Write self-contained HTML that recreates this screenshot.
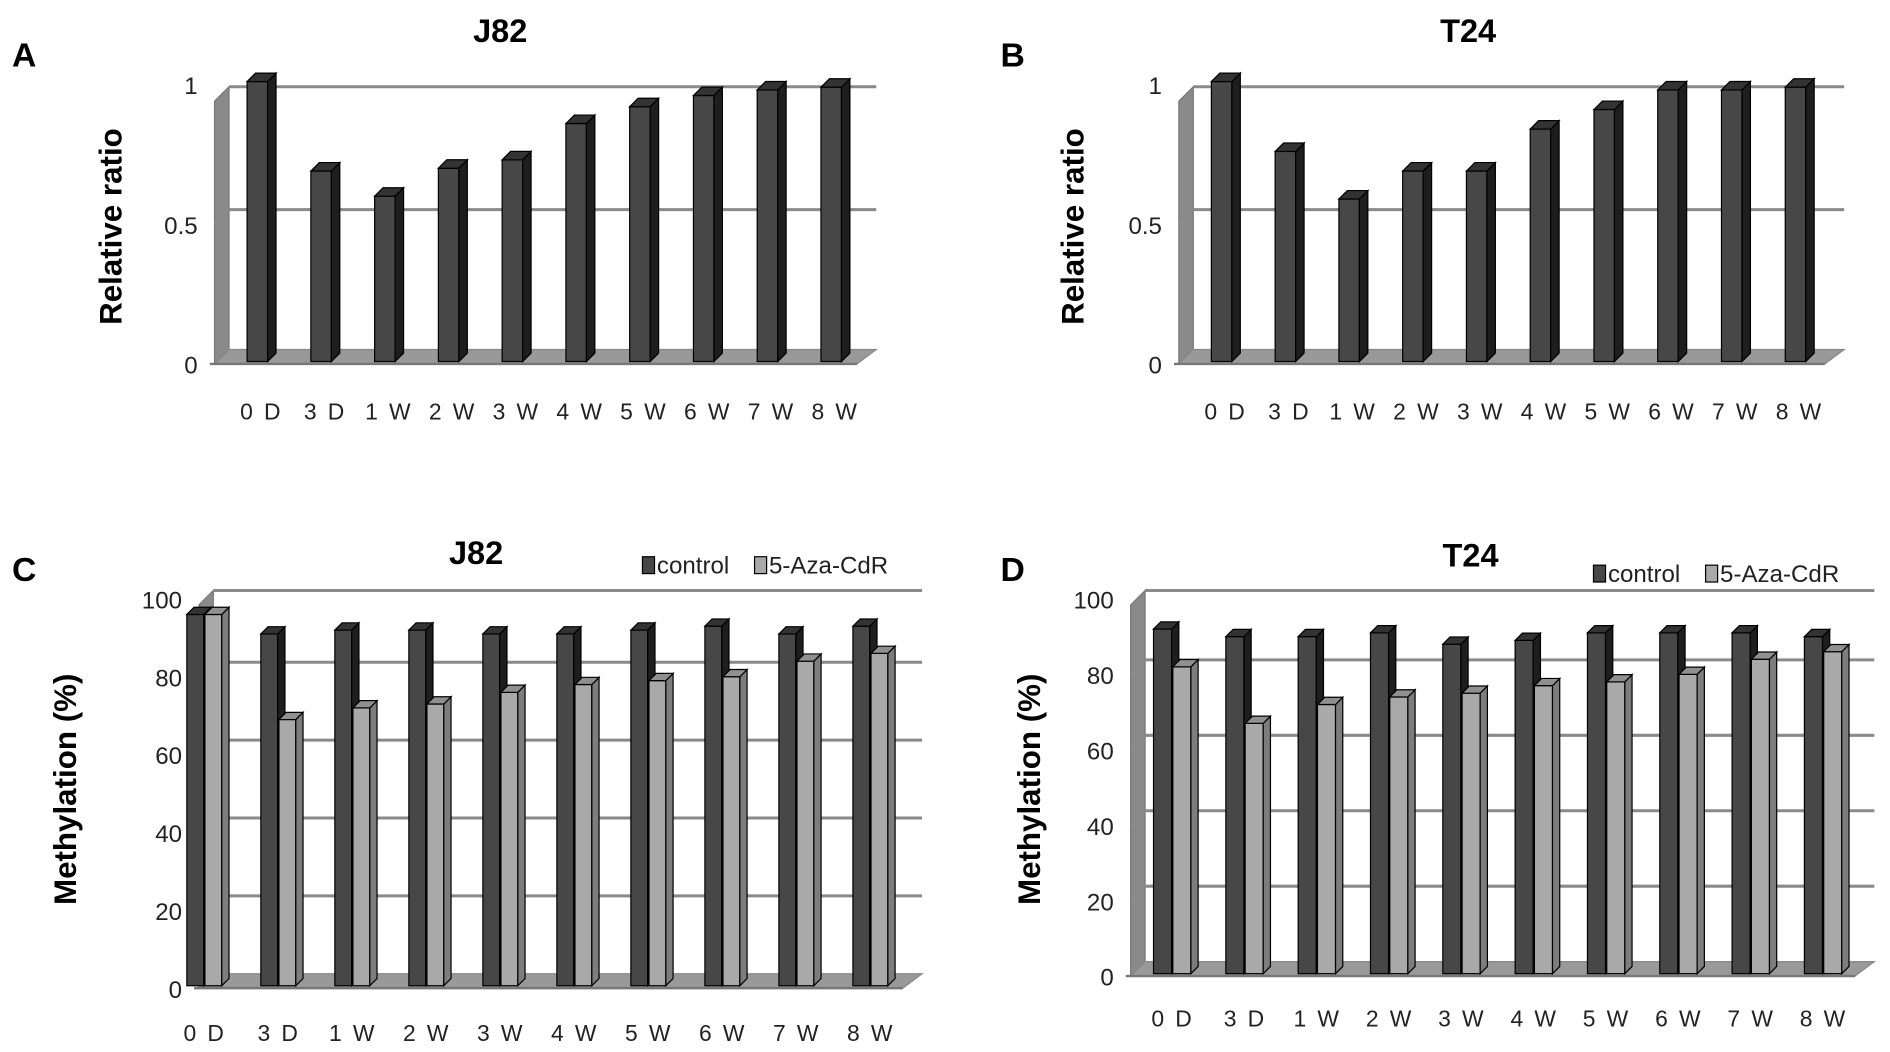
<!DOCTYPE html>
<html><head><meta charset="utf-8"><style>
html,body{margin:0;padding:0;background:#fff;width:1890px;height:1052px;overflow:hidden}
svg{display:block}
text{font-family:"Liberation Sans",sans-serif}
</style></head><body>
<svg id="fig" width="1890" height="1052" viewBox="0 0 1568 873" preserveAspectRatio="none" xmlns="http://www.w3.org/2000/svg"></svg>
<script>
const categoriesAB = ["0 D","3 D","1 W","2 W","3 W","4 W","5 W","6 W","7 W","8 W"];
const ratioJ82 = [1.01,0.69,0.60,0.70,0.73,0.86,0.92,0.96,0.98,0.99];
const ratioT24 = [1.01,0.76,0.59,0.69,0.69,0.84,0.91,0.98,0.98,0.99];
const ticksRatio = [0,0.5,1];
const tickLabelsRatio = ["0","0.5","1"];
const categoriesCD = ["0 D","3 D","1 W","2 W","3 W","4 W","5 W","6 W","7 W","8 W"];
const methJ82Control = [96,91,92,92,91,91,92,93,91,93];
const methJ82Aza = [96,69,72,73,76,78,79,80,84,86];
const methT24Control = [92,90,90,91,88,89,91,91,91,90];
const methT24Aza = [82,67,72,74,75,77,78,80,84,86];
const ticksMeth = [0,20,40,60,80,100];
const tickLabelsMeth = ["0","20","40","60","80","100"];
const seriesNames = ["control","5-Aza-CdR"];

const svg = document.getElementById('fig');
const NS = "http://www.w3.org/2000/svg";
function el(tag, attrs, parent){
  const e = document.createElementNS(NS, tag);
  for (const k in attrs) e.setAttribute(k, attrs[k]);
  (parent||svg).appendChild(e);
  return e;
}
function txt(s, attrs, parent){ const t = el('text', attrs, parent); t.textContent = s; return t; }

function panel(cfg, cats, series, ticks, tickLabels){
  const g = el('g', {});
  
  
  const d = cfg.depth;
  const yScale = v => cfg.y0 - v * (cfg.y0 - cfg.yTop) / cfg.vmax;
  const L = txt(cfg.letter, {x:cfg.letterX, y:cfg.letterY, 'font-size':28, 'font-weight':'bold', fill:'#000'}, g);
  
  
  const T = txt(cfg.title, {x:cfg.titleX, y:cfg.titleY, 'font-size':27, 'font-weight':'bold', 'text-anchor':'middle', fill:'#000'}, g);
  
  
  const wall = el('polygon', {points:`${cfg.axX},${cfg.wallTop+d} ${cfg.axX+d},${cfg.wallTop} ${cfg.axX+d},${cfg.y0-d} ${cfg.axX},${cfg.y0}`, fill:'#8a8a8a', stroke:'#777'}, g);
  
  
  const floor = el('polygon', {points:`${cfg.axX},${cfg.y0} ${cfg.axX+d},${cfg.y0-d} ${cfg.right},${cfg.y0-d} ${cfg.right-d-4},${cfg.y0}`, fill:'#999', stroke:'#888'}, g);
  
  
  const top = el('line', {x1:cfg.axX+d, x2:cfg.right, y1:cfg.wallTop, y2:cfg.wallTop, stroke:'#8a8a8a', 'stroke-width':2.5}, g);
  
  
  ticks.forEach((v,i) => {
    const y = yScale(v);
    if (v > 0 && v < cfg.vmax) {
      const gl = el('line', {x1:cfg.axX+d, x2:cfg.right, y1:y-d, y2:y-d, stroke:'#8a8a8a', 'stroke-width':2.5}, g);
      
      
      el('line', {x1:cfg.axX, x2:cfg.axX+d, y1:y, y2:y-d, stroke:'#8a8a8a', 'stroke-width':1.5}, g);
    }
    const tl = txt(tickLabels[i], {x:cfg.axX-14, y:y+8, 'font-size':20, 'text-anchor':'end', fill:'#222'}, g);
    
    
  });
  el('line', {x1:cfg.axX-4, x2:cfg.right-d-4, y1:cfg.y0, y2:cfg.y0, stroke:'#777', 'stroke-width':2}, g);
  const yt = txt(cfg.yTitle, {x:0, y:0, transform:`translate(${cfg.yTitleX},${cfg.yTitleY}) rotate(-90)`, 'font-size':26, 'font-weight':'bold', 'text-anchor':'middle', fill:'#000'}, g);
  
  
  const fills = [['#474747','#1e1e1e','#333'],['#a9a9a9','#7d7d7d','#909090']];
  cats.forEach((c,i) => {
    const gx = cfg.x0 + i*cfg.step;
    series.forEach((vals,s) => {
      const x = gx + s*(cfg.barW+1);
      const y = yScale(vals[i]);
      const bd = cfg.barDepth;
      const f = fills[s];
      const face = el('rect', {x:x, y:y, width:cfg.barW, height:cfg.y0-2-y, fill:f[0], stroke:'#000', 'stroke-width':1}, g);
      
      
      const side = el('polygon', {points:`${x+cfg.barW},${y} ${x+cfg.barW+bd},${y-bd} ${x+cfg.barW+bd},${cfg.y0-2-bd} ${x+cfg.barW},${cfg.y0-2}`, fill:f[1], stroke:'#000', 'stroke-width':1}, g);
      
      
      const cap = el('polygon', {points:`${x},${y} ${x+bd},${y-bd} ${x+cfg.barW+bd},${y-bd} ${x+cfg.barW},${y}`, fill:f[2], stroke:'#000', 'stroke-width':1}, g);
      
      
    });
    const lx = gx + cfg.labelDx;
    const xl = txt(c, {x:lx, y:cfg.labelY, 'font-size':19, 'letter-spacing':2, 'text-anchor':'middle', fill:'#222'}, g);
    
    
  });
  if (cfg.legendX) {
    const lg = el('g', {}, g);
    
    
    let lx = cfg.legendX;
    seriesNames.forEach((n,s) => {
      const sw = el('rect', {x:lx, y:cfg.legendY-14, width:10, height:14, fill:fills[s][0], stroke:'#000'}, lg);
      
      
      const lt = txt(n, {x:lx+12, y:cfg.legendY, 'font-size':20, fill:'#222'}, lg);
      
      
      lx += s===0 ? cfg.legendGap : 0;
    });
  }
}

panel({name:'panel-a', letter:'A', letterX:10, letterY:55, title:'J82', titleX:415, titleY:35,
  axX:178, wallTop:72, y0:302, yTop:70, vmax:1.0, right:727, depth:12,
  x0:205, step:52.9, barW:17, barDepth:7, labelDx:12, labelY:348,
  yTitle:'Relative ratio', yTitleX:101, yTitleY:188}, categoriesAB, [ratioJ82], ticksRatio, tickLabelsRatio);
panel({name:'panel-b', letter:'B', letterX:830, letterY:55, title:'T24', titleX:1218, titleY:35,
  axX:978, wallTop:72, y0:302, yTop:70, vmax:1.0, right:1530, depth:12,
  x0:1005, step:52.9, barW:17, barDepth:7, labelDx:12, labelY:348,
  yTitle:'Relative ratio', yTitleX:899, yTitleY:188}, categoriesAB, [ratioT24], ticksRatio, tickLabelsRatio);
panel({name:'panel-c', letter:'C', letterX:10, letterY:482, title:'J82', titleX:395, titleY:468,
  axX:165, wallTop:490, y0:820, yTop:497, vmax:100, right:765, depth:12,
  x0:155, step:61.4, barW:14, barDepth:6, labelDx:15, labelY:864,
  yTitle:'Methylation (%)', yTitleX:63, yTitleY:655, legendX:533, legendY:476, legendGap:93}, categoriesCD, [methJ82Control, methJ82Aza], ticksMeth, tickLabelsMeth);
panel({name:'panel-d', letter:'D', letterX:830, letterY:482, title:'T24', titleX:1220, titleY:470,
  axX:938, wallTop:490, y0:810, yTop:497, vmax:100, right:1555, depth:12,
  x0:957, step:60, barW:15, barDepth:6, labelDx:16, labelY:852,
  yTitle:'Methylation (%)', yTitleX:863, yTitleY:655, legendX:1322, legendY:483, legendGap:93}, categoriesCD, [methT24Control, methT24Aza], ticksMeth, tickLabelsMeth);
</script>
</body></html>
